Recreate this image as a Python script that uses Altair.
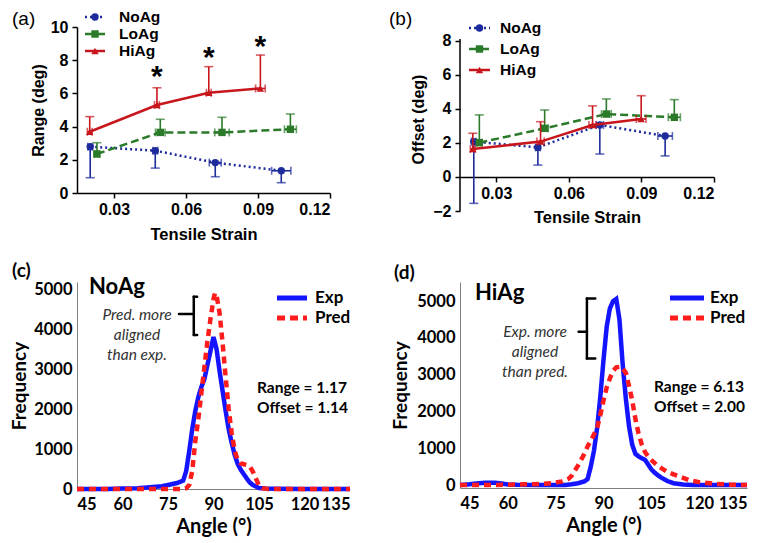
import altair as alt
import pandas as pd

# ---------------- data: panel (a) Range vs tensile strain ----------------
a_no_strain = [0.0201, 0.0472, 0.0722, 0.0997]
a_no_val = [2.79, 2.55, 1.83, 1.34]
a_no_err = [1.87, 1.05, 0.85, 0.72]          # lower bars
a_no_xerr = [0.001, 0.001, 0.0025, 0.004]
a_lo_strain = [0.0229, 0.0493, 0.0750, 0.1035]
a_lo_val = [2.35, 3.65, 3.65, 3.84]
a_lo_err = [0.68, 0.79, 0.91, 0.92]           # upper bars
a_lo_xerr = [0.001, 0.002, 0.003, 0.0025]
a_hi_strain = [0.0199, 0.0479, 0.0695, 0.0910]
a_hi_val = [3.69, 5.30, 6.04, 6.30]
a_hi_err = [0.91, 1.04, 1.57, 2.01]
a_hi_xerr = [0.001, 0.001, 0.001, 0.002]
star_x = [0.0479, 0.0695, 0.0910]
star_y = [7.2, 8.4, 9.05]

# ---------------- data: panel (b) Offset vs tensile strain ----------------
b_no_strain = [0.0207, 0.0472, 0.0728, 0.0998]
b_no_val = [2.08, 1.74, 3.06, 2.41]
b_no_err = [3.63, 1.04, 1.71, 1.17]
b_no_xerr = [0.001, 0.001, 0.0015, 0.003]
b_lo_strain = [0.0230, 0.0500, 0.0755, 0.1036]
b_lo_val = [2.02, 2.86, 3.70, 3.51]
b_lo_err = [1.63, 1.08, 0.89, 1.04]
b_lo_xerr = [0.001, 0.0015, 0.002, 0.0025]
b_hi_strain = [0.0203, 0.0483, 0.0698, 0.0899]
b_hi_val = [1.65, 2.08, 3.06, 3.41]
b_hi_err = [0.92, 1.17, 1.12, 1.37]
b_hi_xerr = [0.001, 0.0015, 0.0015, 0.002]

groups = ["NoAg", "LoAg", "HiAg"]

# ---------------- data: panel (c) NoAg angle distribution ----------------
c_exp_angle = [45, 55, 60, 65, 70, 73, 75, 78, 80, 81, 82, 83, 84, 85, 86, 87, 88, 89, 90,
               91, 92, 93, 94, 95, 96, 97, 98, 99, 100, 101, 102, 103, 104, 105, 107, 110, 120, 135]
c_exp_freq = [0, 0, 10, 20, 50, 70, 100, 150, 210, 450, 950, 1500, 1950, 2300, 2550, 2750, 3100, 3450, 3800,
              3500, 2950, 2450, 1950, 1500, 1150, 850, 620, 480, 370, 260, 160, 100, 60, 25, 10, 5, 0, 0]
c_pred_angle = [45, 60, 70, 80, 81, 82, 83, 84, 85, 86, 87, 88, 89, 90, 90.5, 91, 92, 93, 94, 95,
                96, 97, 98, 99, 100, 101, 102, 103, 104, 105, 106, 108, 120, 135]
c_pred_freq = [0, 0, 0, 0, 20, 100, 450, 1200, 1750, 2400, 3050, 3700, 4250, 4750, 4900, 4850, 4400, 3650, 2800, 2000,
               1400, 950, 720, 640, 620, 600, 560, 430, 260, 90, 20, 0, 0, 0]

# ---------------- data: panel (d) HiAg angle distribution ----------------
d_exp_angle = [45, 48, 50, 53, 56, 58, 60, 63, 70, 78, 80, 82, 84, 85, 86, 87, 88, 89, 90, 91, 92, 93, 94,
               95, 96, 97, 98, 99, 100, 101, 102, 103, 104, 105, 106, 107, 108, 110, 112, 115, 118, 135]
d_exp_freq = [0, 20, 40, 60, 60, 40, 15, 5, 0, 0, 20, 50, 100, 160, 500, 930, 1550, 2400, 3400, 4300, 4800, 5000, 5060,
              4500, 3300, 2350, 1600, 1100, 850, 780, 730, 690, 560, 430, 340, 270, 210, 110, 50, 15, 0, 0]
d_pred_angle = [45, 55, 60, 65, 70, 74, 77, 79, 80, 82, 84, 85, 86, 88, 89, 90, 91, 92, 93, 94, 95.5, 97, 98,
                99, 100, 101, 102, 103, 104, 105, 107, 110, 112, 114.5, 117, 120, 125, 130, 135]
d_pred_freq = [0, 0, 10, 20, 30, 50, 100, 170, 250, 530, 850, 1050, 1200, 1550, 1900, 2300, 2650, 2900, 3100, 3200, 3220, 3050, 2700,
               2300, 1800, 1400, 1100, 900, 780, 680, 520, 360, 290, 210, 130, 80, 30, 10, 0]

c_bracket = {"x": [83.5, 84.6, 78.6], "ylo": 3850, "yhi": 4808, "ymid": 4375}
d_bracket = {"x": [84.8, 87.4, 82.2], "ylo": 3443, "yhi": 5073, "ymid": 4166}
c_note = ["Pred. more", "aligned", "than exp."]
d_note = ["Exp. more", "aligned", "than pred."]
c_stats = ["Range = 1.17", "Offset = 1.14"]
d_stats = ["Range = 6.13", "Offset = 2.00"]
dist_series = ["Exp", "Pred"]

# ---------------- styles ----------------
ARIAL = "Liberation Sans"
CAL = "Lato"
COL = {"NoAg": "#1e2b9c", "LoAg": "#2a7a2a", "HiAg": "#c8161d"}
DASH = {"NoAg": [2, 3], "LoAg": [8, 4], "HiAg": None}
SHAPE = {"NoAg": "circle", "LoAg": "square", "HiAg": "triangle-up"}
EXP_C = "#1414ff"
PRED_C = "#ff1c1c"


def one(**kw):
    return alt.Chart(pd.DataFrame({k: [v] for k, v in kw.items()} if kw else {"k": [0]}))


def text_at(txt, x, y, size, font, weight="normal", style="normal", align="left", color="black"):
    return one(t=txt).mark_text(text=txt, align=align, baseline="middle", font=font, fontSize=size,
                                fontWeight=weight, fontStyle=style, color=color).encode(
        x=alt.value(x), y=alt.value(y))


def series_layers(g, strain, val, err, xerr, direction, X, Y):
    df = pd.DataFrame({"strain": strain, "val": val})
    df["yend"] = [v + direction * e for v, e in zip(val, err)]
    df["xlo"] = [s - e for s, e in zip(strain, xerr)]
    df["xhi"] = [s + e for s, e in zip(strain, xerr)]
    base = alt.Chart(df)
    c = COL[g]
    lkw = dict(color=c, strokeWidth=2.5)
    if DASH[g]:
        lkw["strokeDash"] = DASH[g]
    return [
        base.mark_line(**lkw).encode(x=X("strain"), y=Y("val")),
        base.mark_rule(color=c, strokeWidth=1.6).encode(x=X("strain"), y=Y("val"), y2="yend"),
        base.mark_tick(orient="horizontal", color=c, size=9, thickness=1.6).encode(x=X("strain"), y=Y("yend")),
        base.mark_rule(color=c, strokeWidth=1.6).encode(x=X("xlo"), x2="xhi", y=Y("val")),
        base.mark_tick(orient="vertical", color=c, size=8, thickness=1.6).encode(x=X("xlo"), y=Y("val")),
        base.mark_tick(orient="vertical", color=c, size=8, thickness=1.6).encode(x=X("xhi"), y=Y("val")),
        base.mark_point(filled=True, shape=SHAPE[g], size=55, color=c, opacity=1).encode(x=X("strain"), y=Y("val")),
    ]


def legend_layers(x0, x1, xt, ys):
    out = []
    for g, yy in zip(groups, ys):
        c = COL[g]
        lkw = dict(color=c, strokeWidth=2.5)
        if DASH[g]:
            lkw["strokeDash"] = DASH[g]
        out.append(one(g=g).mark_rule(**lkw).encode(x=alt.value(x0), x2=alt.value(x1), y=alt.value(yy)))
        out.append(one(g=g).mark_point(filled=True, shape=SHAPE[g], size=55, color=c, opacity=1).encode(
            x=alt.value((x0 + x1) / 2), y=alt.value(yy)))
        out.append(text_at(g, xt, yy, 15.5, ARIAL, "bold"))
    return out


def top_axes(ytitle, yvals, xoffset=0, ydomain=True, xtp=9, ytp=4):
    xa = alt.Axis(values=[0.03, 0.06, 0.09, 0.12], format=".2f", title="Tensile Strain", grid=False,
                  labelFont=ARIAL, labelFontSize=16, labelFontWeight="bold", labelColor="black",
                  titleFont=ARIAL, titleFontSize=16.5, titleFontWeight="bold", titleColor="black",
                  titlePadding=xtp, tickSize=5, tickWidth=1.5, tickColor="black", domainColor="black",
                  domainWidth=1.5, labelPadding=3, offset=xoffset)
    ya = alt.Axis(values=yvals, format="d", title=ytitle, grid=False, domain=ydomain,
                  labelFont=ARIAL, labelFontSize=16, labelFontWeight="bold", labelColor="black",
                  titleFont=ARIAL, titleFontSize=16, titleFontWeight="bold", titleColor="black",
                  titlePadding=ytp, tickSize=5, tickWidth=1.5, tickColor="black", domainColor="black",
                  domainWidth=1.5, labelPadding=4)
    return xa, ya


# ---------------- panel (a) ----------------
xs_a = alt.Scale(domain=[0.0146, 0.12], nice=False, zero=False)
ys_a = alt.Scale(domain=[0, 10], nice=False)
xa_a, ya_a = top_axes("Range (deg)", [0, 2, 4, 6, 8, 10])
Xa = lambda f: alt.X(f"{f}:Q", scale=xs_a, axis=xa_a)
Ya = lambda f: alt.Y(f"{f}:Q", scale=ys_a, axis=ya_a)
layers_a = []
layers_a += series_layers("NoAg", a_no_strain, a_no_val, a_no_err, a_no_xerr, -1, Xa, Ya)
layers_a += series_layers("LoAg", a_lo_strain, a_lo_val, a_lo_err, a_lo_xerr, 1, Xa, Ya)
layers_a += series_layers("HiAg", a_hi_strain, a_hi_val, a_hi_err, a_hi_xerr, 1, Xa, Ya)
stars = alt.Chart(pd.DataFrame({"sx": star_x, "sy": star_y})).mark_text(
    text="*", fontSize=30, font=ARIAL, fontWeight="bold", baseline="middle", dy=4, color="black").encode(
    x=Xa("sx"), y=Ya("sy"))
layers_a.append(stars)
layers_a += legend_layers(8, 28, 42, [-10, 7, 24])
layers_a.append(text_at("(a)", -65, -8, 19, ARIAL))
panel_a = alt.layer(*layers_a).properties(width=253, height=166)

# ---------------- panel (b) ----------------
xs_b = alt.Scale(domain=[0.015, 0.12], nice=False, zero=False)
ys_b = alt.Scale(domain=[-2, 8.82], nice=False, zero=False)
xa_b, ya_b = top_axes("Offset (deg)", [-2, 0, 2, 4, 6, 8], xoffset=-34, ydomain=False, xtp=8, ytp=6)
Xb = lambda f: alt.X(f"{f}:Q", scale=xs_b, axis=xa_b)
Yb = lambda f: alt.Y(f"{f}:Q", scale=ys_b, axis=ya_b)
layers_b = [one(lo=-2, hi=8.12).mark_rule(color="black", strokeWidth=1.5).encode(
    x=alt.value(0), y=Yb("lo"), y2="hi")]
layers_b += series_layers("NoAg", b_no_strain, b_no_val, b_no_err, b_no_xerr, -1, Xb, Yb)
layers_b += series_layers("LoAg", b_lo_strain, b_lo_val, b_lo_err, b_lo_xerr, 1, Xb, Yb)
layers_b += series_layers("HiAg", b_hi_strain, b_hi_val, b_hi_err, b_hi_xerr, 1, Xb, Yb)
layers_b += legend_layers(9, 30, 40, [1, 22, 43])
layers_b.append(text_at("(b)", -71, -8, 19, ARIAL))
panel_b = alt.layer(*layers_b).properties(width=254, height=184)


# ---------------- bottom panels ----------------
def dist_panel(label, name, exp_a, exp_f, pred_a, pred_f, ydom, width, height, bracket, note, note_pos,
               stats, stats_pos, name_pos, leg, lab_pos, ytp):
    xs = alt.Scale(domain=[45, 135], nice=False, zero=False)
    ys = alt.Scale(domain=ydom, nice=False, zero=False)
    xa = alt.Axis(values=[45, 60, 75, 90, 105, 120, 135], format="d", title="Angle (°)", grid=False, ticks=False,
                  labelFont=CAL, labelFontSize=16.5, labelFontWeight="bold", labelColor="black",
                  titleFont=CAL, titleFontSize=20, titleFontWeight="bold", titleColor="black",
                  titlePadding=4, labelPadding=7, domainColor="#808080", domainWidth=1)
    ya = alt.Axis(values=[0, 1000, 2000, 3000, 4000, 5000], format="d", title="Frequency", grid=False,
                  ticks=False, labelFont=CAL, labelFontSize=16.5, labelFontWeight="bold", labelColor="black",
                  titleFont=CAL, titleFontSize=19, titleFontWeight="bold", titleColor="black",
                  titlePadding=ytp, labelPadding=5, domainColor="#808080", domainWidth=1)
    X = lambda f: alt.X(f"{f}:Q", scale=xs, axis=xa)
    Y = lambda f: alt.Y(f"{f}:Q", scale=ys, axis=ya)
    exp_df = pd.DataFrame({"angle": exp_a, "freq": exp_f})
    pred_df = pd.DataFrame({"angle": pred_a, "freq": pred_f})
    L = [
        alt.Chart(exp_df).mark_line(color=EXP_C, strokeWidth=4.5).encode(x=X("angle"), y=Y("freq")),
        alt.Chart(pred_df).mark_line(color=PRED_C, strokeWidth=4.5, strokeDash=[7, 5]).encode(
            x=X("angle"), y=Y("freq")),
    ]
    bx, bend, bmid = bracket["x"]
    br = pd.DataFrame({"x1": [bx, bx, bx, bmid], "x2": [bx, bend, bend, bx],
                       "y1": [bracket["ylo"], bracket["yhi"], bracket["ylo"], bracket["ymid"]],
                       "y2": [bracket["yhi"], bracket["yhi"], bracket["ylo"], bracket["ymid"]]})
    L.append(alt.Chart(br).mark_rule(color="black", strokeWidth=2.5, strokeCap="round").encode(
        x=X("x1"), x2="x2", y=Y("y1"), y2="y2"))
    for i, t in enumerate(note):
        L.append(text_at(t, note_pos[0], note_pos[1] + 20 * i, 15.5, CAL, "normal", "italic",
                         align="center", color="#333333"))
    for i, t in enumerate(stats):
        L.append(text_at(t, stats_pos[0], stats_pos[1] + 20 * i, 15.5, CAL, "bold"))
    L.append(text_at(name, name_pos[0], name_pos[1], 22, CAL, "bold"))
    lx0, lx1, lxt = leg
    L.append(one(s="Exp").mark_rule(color=EXP_C, strokeWidth=5).encode(
        x=alt.value(lx0), x2=alt.value(lx1), y=alt.value(16)))
    L.append(one(s="Pred").mark_rule(color=PRED_C, strokeWidth=5, strokeDash=[8, 5]).encode(
        x=alt.value(lx0), x2=alt.value(lx1), y=alt.value(36)))
    L.append(text_at(dist_series[0], lxt, 16, 17, CAL, "bold"))
    L.append(text_at(dist_series[1], lxt, 36, 17, CAL, "bold"))
    L.append(text_at(label, lab_pos[0], lab_pos[1], 19, CAL, "bold"))
    return alt.layer(*L).properties(width=width, height=height)


panel_c = dist_panel("(c)", "NoAg", c_exp_angle, c_exp_freq, c_pred_angle, c_pred_freq, [0, 5175], 273, 207,
                     c_bracket, c_note, (60, 33), c_stats, (180, 106), (12, 5), (200, 230, 238), (-65, -11), 4)
panel_d = dist_panel("(d)", "HiAg", d_exp_angle, d_exp_freq, d_pred_angle, d_pred_freq, [-80, 5520], 287, 206,
                     d_bracket, d_note, (75, 50), d_stats, (194, 105), (15, 11), (210, 244, 250), (-66, -9), 6)

chart = alt.concat(panel_a, panel_b, panel_c, panel_d, columns=2,
                   spacing={"row": 48, "column": 96}, bounds="flush", align="all").properties(
    padding={"top": 2, "left": 2, "right": 0, "bottom": 0}, background="white").configure_view(stroke=None)

chart.save("out.html", embed_options={"renderer": "svg", "actions": False})
